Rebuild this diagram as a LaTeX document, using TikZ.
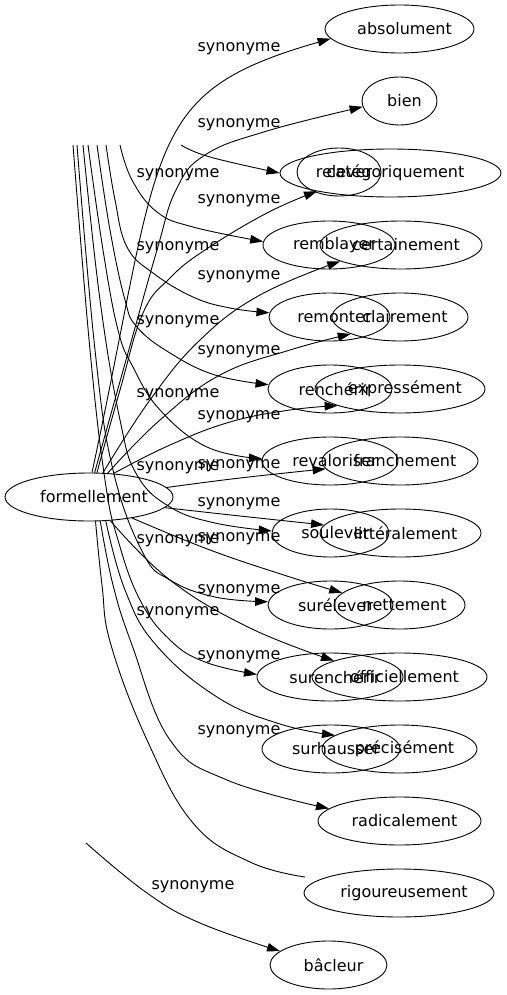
\documentclass[tikz,border=0pt]{standalone}
\usepackage{fontspec}
\setmainfont{DejaVu Sans}
\usetikzlibrary{arrows.meta, shapes}

\begin{document}
\begin{tikzpicture}[x=1pt, y=-1pt, >={Triangle[length=13pt,width=8.5pt]}]
    \tikzstyle{every node} = [font=\fontsize{16}{19}\selectfont]
    \tikzstyle{word} = [draw, ellipse, minimum height=48pt, inner sep=0pt, line width=0.9pt,
        execute at begin node={\kern5pt}, execute at end node={\kern-5pt}]
    \tikzstyle{synarrow} = [->, line width=0.9pt]
    \tikzstyle{synline} = [line width=0.9pt]
    \useasboundingbox (0,0) rectangle (506,995);

    \node [word, minimum width=168pt] (formellement) at (89,497) {formellement};
    \node [word, minimum width=149pt] (absolument) at (399.5,29) {absolument};
    \node [word, minimum width=75pt] (bien) at (399.5,101) {bien};
    \node [word, minimum width=221pt] (categoriquement) at (390.5,173) {catégoriquement};
    \node [word, minimum width=84pt] (relever) at (339,172) {relever};
    \node [word, minimum width=162pt] (certainement) at (401,245) {certainement};
    \node [word, minimum width=132pt] (remblayer) at (329,245) {remblayer};
    \node [word, minimum width=136pt] (clairement) at (400,317) {clairement};
    \node [word, minimum width=121pt] (remonter) at (329.5,317) {remonter};
    \node [word, minimum width=170pt] (expressement) at (400,389) {expressément};
    \node [word, minimum width=124pt] (rencherir) at (330,389) {renchérir};
    \node [word, minimum width=156pt] (franchement) at (400,461) {franchement};
    \node [word, minimum width=136pt] (revaloriser) at (330,461) {revaloriser};
    \node [word, minimum width=161pt] (litteralement) at (400.5,533) {littéralement};
    \node [word, minimum width=117pt] (soulever) at (330.5,533) {soulever};
    \node [word, minimum width=131pt] (nettement) at (399.5,605) {nettement};
    \node [word, minimum width=125pt] (surelever) at (330.5,605) {surélever};
    \node [word, minimum width=175pt] (officiellement) at (399.5,677) {officiellement};
    \node [word, minimum width=146pt] (surencherir) at (330,677) {surenchérir};
    \node [word, minimum width=155pt] (precisement) at (399.5,749) {précisément};
    \node [word, minimum width=138pt] (surhausser) at (331,749) {surhausser};
    \node [word, minimum width=163pt] (radicalement) at (399.5,821) {radicalement};
    \node [word, minimum width=190pt] (rigoureusement) at (399,893) {rigoureusement};
    \node [word, minimum width=117pt] (bacleur) at (328.5,965) {bâcleur};

    \coordinate (cut1) at (73,145);
    \coordinate (cut2) at (77,145);
    \coordinate (cut3) at (83,145);
    \coordinate (cut4) at (88,145);
    \coordinate (cut5) at (97,145);
    \coordinate (cut6) at (106,145);
    \coordinate (cut7) at (120,145);
    \coordinate (cut8) at (181,145);
    \coordinate (cutb) at (86,843);
    \coordinate (rigend) at (305,877);

    \draw [synarrow] (formellement.83) .. controls (163,143) and (141,93) .. (absolument.188);
    \draw [synarrow] plot [smooth, tension=0.7] coordinates {(formellement.77) (126,360) (157,250) (176,190) (205,155) (267,131) (bien.189)};
    \draw [synarrow] plot [smooth, tension=0.7] coordinates {(formellement.72) (120,390) (143,313) (170,278) (205,250) (267,213) (categoriquement.194)};
    \draw [synarrow] plot [smooth, tension=0.7] coordinates {(formellement.60) (150,400) (200,340) (260,295) (certainement.195)};
    \draw [synarrow] plot [smooth, tension=0.7] coordinates {(formellement.52) (160,420) (220,375) (290,350) (clairement.199)};
    \draw [synarrow] plot [smooth, tension=0.7] coordinates {(formellement.44) (170,445) (230,422) (290,410) (expressement.195)};
    \draw [synarrow] plot [smooth, tension=0.7] coordinates {(formellement.7) (240,478) (franchement.186)};
    \draw [synarrow] plot [smooth, tension=0.7] coordinates {(formellement.-8) (240,516) (litteralement.174)};
    \draw [synarrow] plot [smooth, tension=0.7] coordinates {(formellement.-26) (210,550) (290,577) (nettement.168)};
    \draw [synarrow] plot [smooth, tension=0.7] coordinates {(formellement.-48) (170,580) (250,628) (officiellement.166)};
    \draw [synarrow] plot [smooth, tension=0.7] coordinates {(formellement.-55) (125,590) (156,645) (217,697) (280,724) (precisement.168)};
    \draw [synarrow] plot [smooth, tension=0.7] coordinates {(formellement.-65) (113,585) (132,645) (170,740) (227,780) (radicalement.170)};
    \draw [synline] plot [smooth, tension=0.7] coordinates {(formellement.-75) (102,585) (111,645) (147,740) (193,823) (250,862) (rigend)};

    \draw [synarrow] plot [smooth, tension=0.7] coordinates {(cut8) (210,157) (categoriquement.west)};
    \draw [synarrow] plot [smooth, tension=0.7] coordinates {(cut7) (132,180) (157,212) (193,227) (remblayer.177)};
    \draw [synarrow] plot [smooth, tension=0.7] coordinates {(cut6) (115,200) (127,247) (153,273) (193,297) (230,308) (remonter.176)};
    \draw [synarrow] plot [smooth, tension=0.7] coordinates {(cut5) (110,230) (125,300) (137,327) (170,353) (215,375) (rencherir.176)};
    \draw [synarrow] plot [smooth, tension=0.7] coordinates {(cut4) (103,250) (118,330) (133,367) (160,410) (207,447) (revaloriser.178)};
    \draw [synarrow] plot [smooth, tension=0.7] coordinates {(cut3) (100,300) (120,420) (137,475) (170,507) (215,523) (soulever.178)};
    \draw [synarrow] plot [smooth, tension=0.7] coordinates {(cut2) (95,350) (113,470) (143,553) (170,580) (215,597) (surelever.177)};
    \draw [synarrow] plot [smooth, tension=0.7] coordinates {(cut1) (90,350) (105,480) (118,540) (140,600) (170,640) (205,662) (surencherir.178)};
    \draw [synarrow] plot [smooth, tension=0.7] coordinates {(cutb) (147,893) (200,923) (bacleur.164)};

    \foreach \x/\y [count=\i] in {239/49, 239/125, 239/201, 239/277, 239/352, 239/417, 239/466, 239/504, 239/539, 239/591, 239/657, 239/732, 178/175, 178/248, 178/322, 178/395, 178/468, 178/541, 178/613, 193/887}
        \node (syn\i) at (\x,\y) {synonyme};
\end{tikzpicture}
\end{document}
